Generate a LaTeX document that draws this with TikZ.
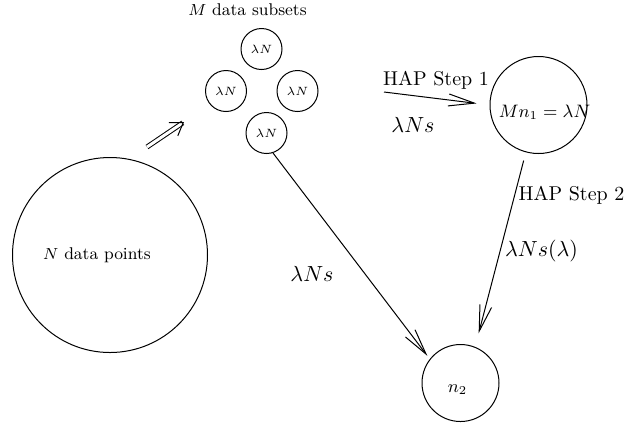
\documentclass[tikz,border=0pt]{standalone}
\usetikzlibrary{arrows.meta,positioning}

\begin{document}
\begin{tikzpicture}[x=0.5pt,y=-0.5pt,
    set/.style={circle,draw,line width=0.5pt,inner sep=0pt},
    subset/.style={set,minimum size=20.5pt,font=\fontsize{6}{7}\selectfont},
    flow/.style={line width=0.5pt,-{Straight Barb[length=13pt,width=6pt]}},
    steplab/.style={font=\fontsize{10}{12}\selectfont},
    ratelab/.style={font=\fontsize{11}{13}\selectfont}]
  \useasboundingbox (0,0) rectangle (626,425);
  % data sets
  \node (data) [set,minimum size=97.5pt] at (110,255) {};
  \node (datatext) [font=\fontsize{8.5}{10}\selectfont] at (97,255) {$N$ data points};
  \node (sub1) [subset] at (261.5,49) {$\lambda N$};
  \node (sub2) [subset] at (226,91) {$\lambda N$};
  \node (sub3) [subset] at (297.5,91) {$\lambda N$};
  \node (sub4) [subset] at (266.5,133) {$\lambda N$};
  \node (subtext) [font=\fontsize{8.5}{10}\selectfont] at (247.5,10) {$M$ data subsets};
  \node (hap) [set,minimum size=48.5pt] at (538.5,105) {};
  \node (haptext) [font=\fontsize{9}{11}\selectfont] at (544.5,112) {$Mn_1=\lambda N$};
  \node (n2) [set,minimum size=38.5pt] at (460.5,383) {};
  \node (n2text) [font=\fontsize{9}{11}\selectfont] at (457.5,390) {$n_2$};
  % arrows
  \coordinate (split1) at (147,147);
  \coordinate (split2) at (184,122);
  \draw[line width=0.5pt,double,double distance=1.5pt,-{Straight Barb[length=6pt,width=8pt]}] (split1) -- (split2);
  \coordinate (step1) at (384,92);
  \draw[flow,shorten >=6.5pt] (step1) -- (hap.west);
  \draw[flow,shorten >=2pt] (sub4.-72) -- (n2.142);
  \draw[flow,shorten <=4.25pt,shorten >=7pt] (hap.-105.7) -- (n2.68.7);
  % labels
  \node (step1text) [steplab] at (436,80) {HAP Step 1};
  \node (rate1) [ratelab] at (413,125) {$\lambda Ns$};
  \node (rate2) [ratelab] at (312,274) {$\lambda Ns$};
  \node (step2text) [steplab] at (571.5,195) {HAP Step 2};
  \node (rate3) [ratelab] at (541.5,251) {$\lambda Ns(\lambda)$};
\end{tikzpicture}
\end{document}
